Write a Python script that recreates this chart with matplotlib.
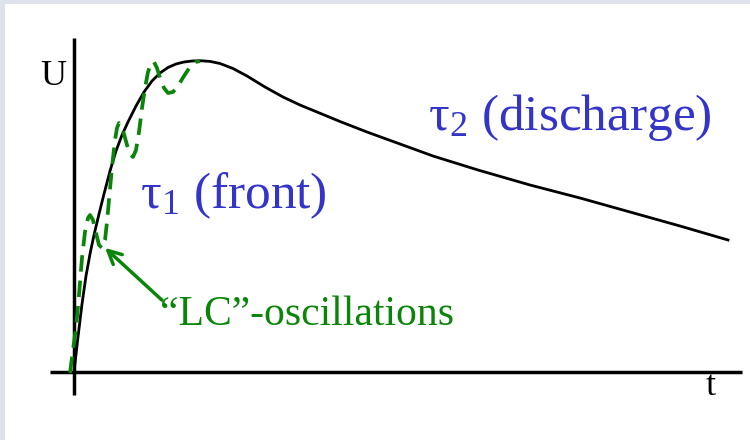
import matplotlib
matplotlib.use("Agg")
import matplotlib.pyplot as plt
from matplotlib.patches import Rectangle

plt.rcParams["font.family"] = ["Liberation Serif", "DejaVu Serif"]
plt.rcParams["mathtext.fontset"] = "custom"
plt.rcParams["mathtext.rm"] = "Liberation Serif"
plt.rcParams["mathtext.it"] = "Liberation Serif:italic"

# double-exponential impulse (arbitrary units)
t_pulse = [0, 4, 8, 12, 16, 20, 25, 30, 36, 42, 48, 54, 62, 70, 78, 86, 94,
           102, 110, 118, 126, 136, 146, 159, 173, 191, 209, 226, 243, 266, 293,
           326, 359, 404, 456, 506, 556, 606, 654]
u_pulse = [0, 35, 68, 96, 118, 137, 158, 178, 201, 221, 237, 250, 266, 280,
           291, 299, 304.5, 308, 310, 311, 311.3, 310.6, 308.5, 303.5, 296, 285,
           275, 267, 260, 250.5, 240, 228, 216, 202, 187, 174, 160, 146, 132]

# front with superimposed LC ringing
t_osc = [-4, -1, 2, 5, 8, 11, 14, 16, 19, 22, 25, 28, 31, 33, 35, 37, 39, 41, 43,
         45, 47, 50, 53, 56, 59, 62, 65, 68, 71, 74, 77, 80, 83, 86, 90, 94, 99,
         104, 110, 116, 122, 126]
u_osc = [-1, 22, 44, 77, 114, 140, 154, 157, 152, 139, 127, 124, 132, 150, 172,
         194, 214, 232, 244, 249, 247, 238, 227, 218, 215, 222, 240, 264, 284, 300,
         309, 310, 304, 294, 284, 279, 280, 286, 296, 305, 310, 311]

green = "#0a850a"
blue = "#3434c8"

fig = plt.figure(figsize=(7.5, 4.4), dpi=100, facecolor="#dde2eb")
ax = fig.add_axes([5 / 750, 0, 745 / 750, 436 / 440])
ax.set_xlim(-69, 676)
ax.set_ylim(-68, 368)
ax.axis("off")
ax.add_patch(Rectangle((-69, -68), 745, 436, facecolor="white", edgecolor="none", zorder=0))

# coordinate axes
ax.plot([-24, 668], [0, 0], color="black", lw=2.5, solid_capstyle="butt", zorder=2)
ax.plot([0, 0], [-23, 334], color="black", lw=2.5, solid_capstyle="butt", zorder=2)

ax.plot(t_pulse, u_pulse, color="black", lw=2.0, solid_joinstyle="round", zorder=3)
ax.plot(t_osc, u_osc, color=green, lw=2.7, dashes=(4.4, 2.4), zorder=4)

ax.text(-34, 287, "U", fontsize=26, color="black")
ax.text(632, -23, "t", fontsize=26, color="black")

ax.text(354, 242, r"$\mathrm{\tau}_2$ (discharge)", fontsize=37, color=blue)
ax.text(66, 164, r"$\mathrm{\tau}_1$ (front)", fontsize=37, color=blue)

ax.annotate("", xy=(29, 126), xytext=(90, 70),
            arrowprops=dict(arrowstyle="->", color=green, lw=2.5, mutation_scale=24))
ax.text(86, 47, "\u201cLC\u201d-oscillations", fontsize=30, color=green)

fig.savefig("out.png", dpi=100, facecolor=fig.get_facecolor())
